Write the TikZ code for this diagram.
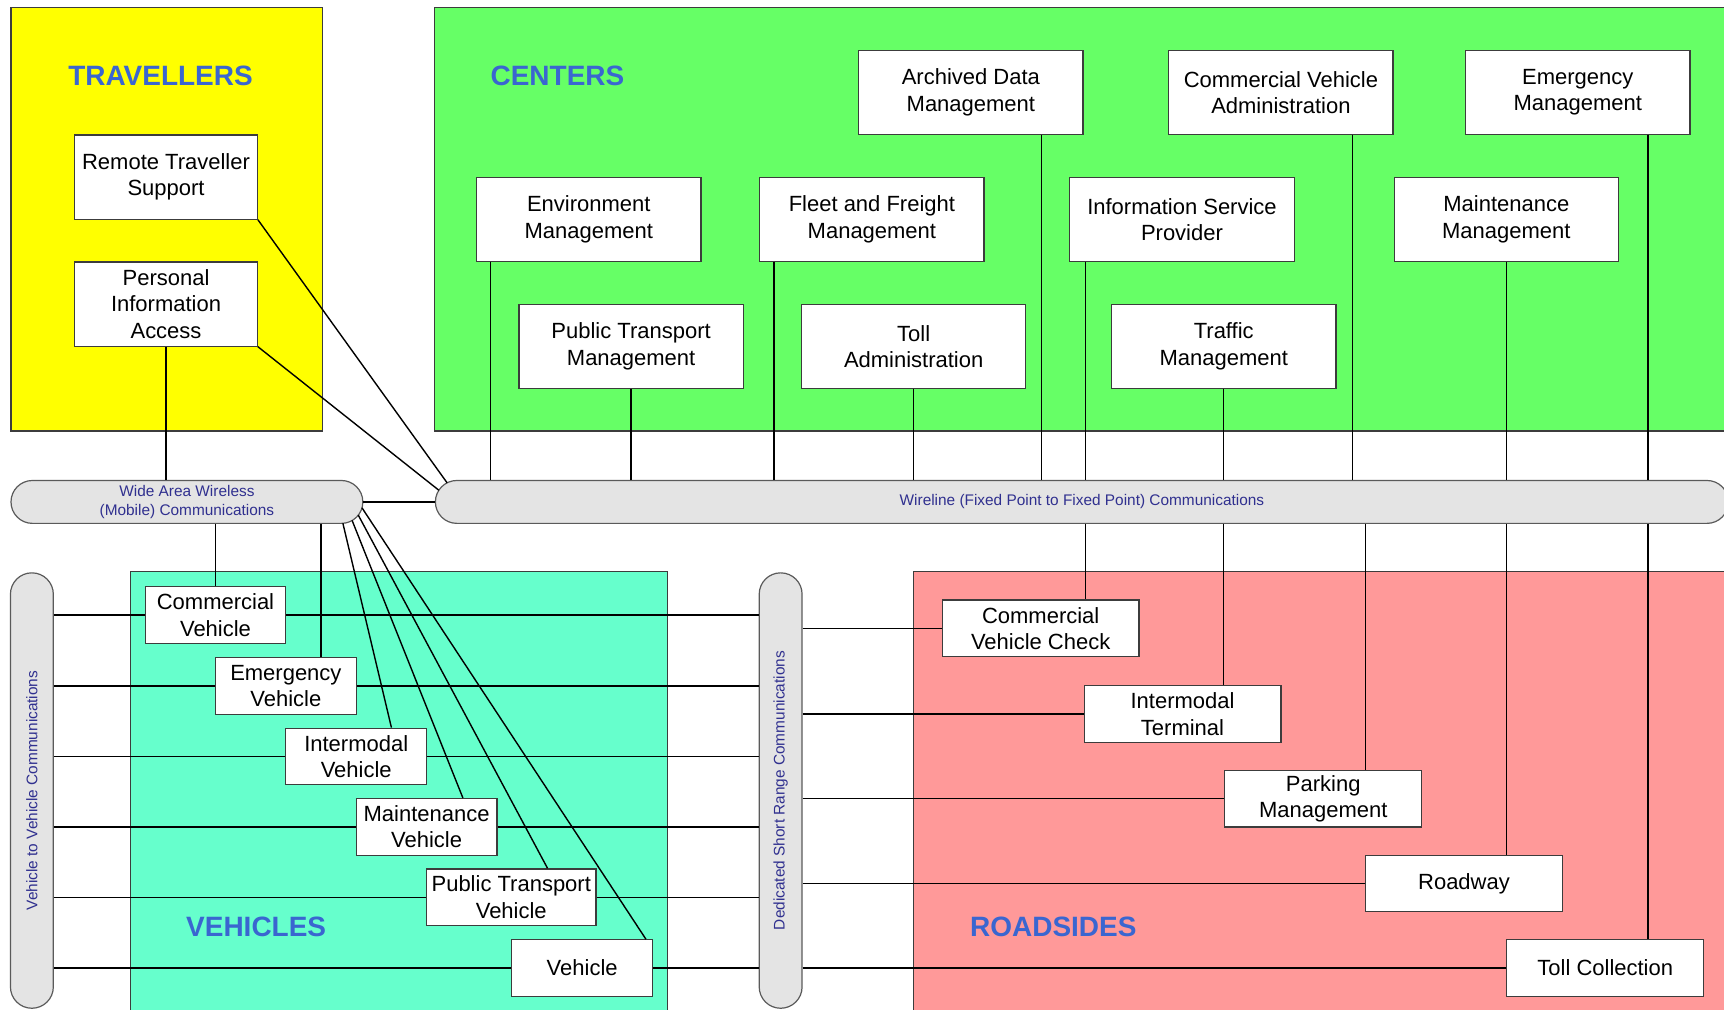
\documentclass[tikz,border=0pt]{standalone}
\usepackage{fontspec}
\setmainfont{Liberation Sans}
\usepackage{tikz}
\definecolor{travfill}{HTML}{FFFF00}
\definecolor{ctrfill}{HTML}{66FF66}
\definecolor{vehfill}{HTML}{66FFCC}
\definecolor{rsfill}{HTML}{FF9999}
\definecolor{busfill}{HTML}{E4E4E4}
\definecolor{busline}{HTML}{5A5A5A}
\definecolor{bustext}{HTML}{30308F}
\definecolor{titleblue}{HTML}{3A66D0}
\definecolor{boxline}{HTML}{3C3C3C}
\newcommand{\unitfont}{\fontsize{11}{13.2}\selectfont}
\newcommand{\busfont}{\fontsize{7.7}{9.3}\selectfont}
\newcommand{\areafont}{\fontsize{14}{16.8}\selectfont\bfseries}

\begin{document}
\begin{tikzpicture}[x=0.55pt,y=-0.55pt,
  area/.style={draw=boxline,line width=0.6pt},
  areatitle/.style={text=titleblue,font=\areafont,inner sep=0pt},
  unit/.style={draw=boxline,fill=white,rectangle,line width=0.6pt,inner sep=0pt,align=center,font=\unitfont},
  travbox/.style={unit,minimum width=91.3pt,minimum height=42.1pt},
  ctrbox/.style={unit,minimum width=112.2pt,minimum height=41.8pt},
  vehbox/.style={unit,minimum width=70.4pt,minimum height=28.3pt},
  rsbox/.style={unit,minimum width=98.45pt,minimum height=28.3pt},
  bus/.style={draw=busline,fill=busfill,line width=0.6pt,rounded corners=10.7pt,minimum height=21.45pt,inner sep=0pt,align=center,text=bustext,font=\busfont},
  link/.style={draw=black,line width=0.7pt}]

  \useasboundingbox (0,0) rectangle (1568,918);

  %areas
  \draw[area,fill=travfill] (10,7) rectangle (293,392);
  \draw[area,fill=ctrfill] (395,7) rectangle (1580,392);
  \draw[area,fill=vehfill] (119,520) rectangle (607,930);
  \draw[area,fill=rsfill] (831,520) rectangle (1580,930);

  \node[areatitle] (travtitle) at (146,69) {TRAVELLERS};
  \node[areatitle] (ctrtitle) at (507,69) {CENTERS};
  \node[areatitle] (vehtitle) at (233,843) {VEHICLES};
  \node[areatitle] (rstitle) at (958,843) {ROADSIDES};

  %travellers
  \node[travbox] (rts) at (151,161) {Remote Traveller\\Support};
  \node[travbox] (pia) at (151,276.5) {Personal\\Information\\Access};

  %centers
  \node[ctrbox] (adm) at (883,84) {Archived Data\\Management};
  \node[ctrbox] (cva) at (1165,84) {Commercial Vehicle\\Administration};
  \node[ctrbox] (em) at (1435,84) {Emergency\\Management};
  \node[ctrbox] (env) at (535.5,199.5) {Environment\\Management};
  \node[ctrbox] (ffm) at (793,199.5) {Fleet and Freight\\Management};
  \node[ctrbox] (isp) at (1075,199.5) {Information Service\\Provider};
  \node[ctrbox] (mm) at (1370,199.5) {Maintenance\\Management};
  \node[ctrbox] (ptm) at (574,315) {Public Transport\\Management};
  \node[ctrbox] (tolla) at (831,315) {Toll\\Administration};
  \node[ctrbox] (traf) at (1113,315) {Traffic\\Management};

  %communications
  \node[bus,minimum width=176pt] (wide) at (170,456.5) {Wide Area Wireless\\(Mobile) Communications};
  \node[bus,minimum width=646.8pt] (wireline) at (984,456.5) {Wireline (Fixed Point to Fixed Point) Communications};
  \node[bus,rotate=90,minimum width=217.8pt] (v2v) at (29,719) {Vehicle to Vehicle Communications};
  \node[bus,rotate=90,minimum width=217.8pt] (dsrc) at (710,719) {Dedicated Short Range Communications};

  %vehicles
  \node[vehbox] (cv) at (196,559.5) {Commercial\\Vehicle};
  \node[vehbox] (ev) at (260,624) {Emergency\\Vehicle};
  \node[vehbox] (iv) at (324,688) {Intermodal\\Vehicle};
  \node[vehbox] (mv) at (388,752) {Maintenance\\Vehicle};
  \node[vehbox,minimum width=84.7pt] (ptv) at (465,816) {Public Transport\\Vehicle};
  \node[vehbox] (veh) at (529.5,880.5) {Vehicle};

  %roadsides
  \node[rsbox] (cvc) at (946.5,571.5) {Commercial\\Vehicle Check};
  \node[rsbox] (it) at (1075.5,649.5) {Intermodal\\Terminal};
  \node[rsbox] (pm) at (1203.5,726.5) {Parking\\Management};
  \node[rsbox] (rw) at (1331.5,803.5) {Roadway};
  \node[rsbox] (tc) at (1460,880.5) {Toll Collection};

  %links
  \coordinate (wlarc) at (415.5,456.5);
  \coordinate (fan) at (310.5,456.5);
  \draw[link] (rts.south east) -- ([shift={(243:19.5)}]wlarc);
  \draw[link] (pia.south east) -- ([shift={(213:19.5)}]wlarc);
  \draw[link] (pia.south) -- (pia.south |- wide.north);
  \draw[link] (wide.east) -- (wireline.west);

  \foreach \n/\x in {env/446,ptm/574,ffm/704,tolla/831,adm/947,isp/987,traf/1113,cva/1230,mm/1370,em/1499}
    \draw[link] (\n.south -| \x,0) -- (wireline.north -| \x,0);
  \foreach \n/\x in {cvc/987,it/1113,pm/1242,rw/1370,tc/1499}
    \draw[link] (wireline.south -| \x,0) -- (\n.north -| \x,0);

  \draw[link] (wide.south -| cv.north) -- (cv.north);
  \draw[link] (wide.south -| 292,0) -- (ev.north -| 292,0);
  \foreach \a/\n/\x in {86/iv/356,60/mv/421,38/ptv/498,16/veh/587.5}
    \draw[link] ([shift={(\a:19.5)}]fan) -- (\n.north -| \x,0);

  \foreach \n in {cv,ev,iv,mv,ptv,veh}{
    \draw[link] (v2v.south |- \n.west) -- (\n.west);
    \draw[link] (\n.east) -- (dsrc.north |- \n.east);
  }
  \foreach \n in {cvc,it,pm,rw,tc}
    \draw[link] (dsrc.south |- \n.west) -- (\n.west);

\end{tikzpicture}
\end{document}
